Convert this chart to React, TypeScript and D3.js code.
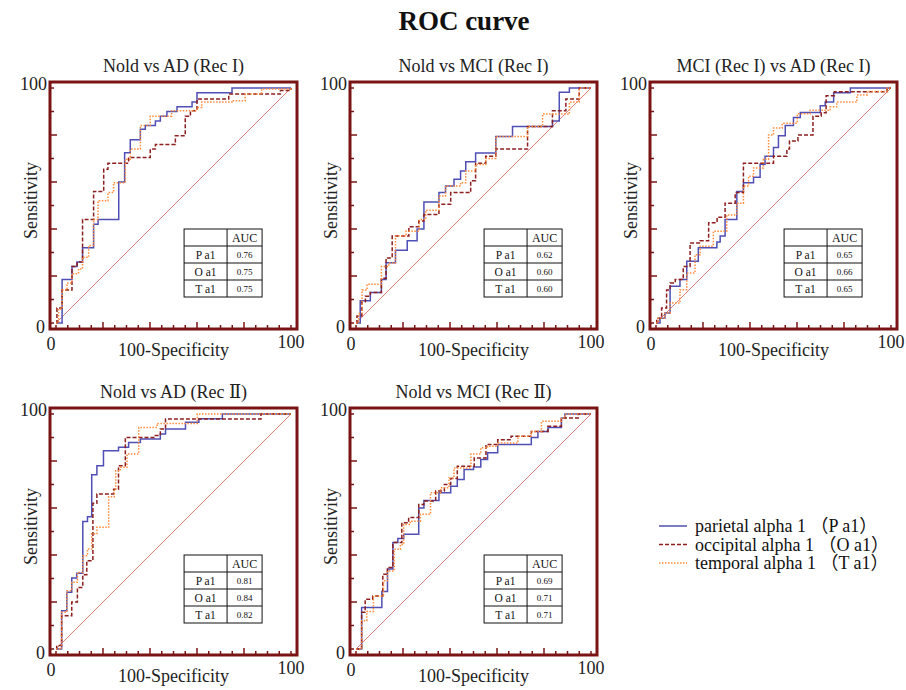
import * as d3 from "d3";

// ROC points: [100-specificity, sensitivity], stepped (horizontal, then up)
const p1Parietal = [[0,0],[2.6,18.5],[6.8,24],[8.9,26],[11.3,32],[16,42],[17.9,44],[26.7,60],[29.2,72.5],[31.6,78],[35.9,82.5],[38,84],[42.3,86],[44.4,88],[47.2,90],[51.5,92],[57.9,94],[60,98],[74.9,100],[100,100]];
const p1Occipital = [[0,0],[0.4,6.4],[2.6,14],[6.8,24],[9,26],[11.3,44],[16,56],[20.3,65.4],[22.1,68],[30.9,70.4],[40.1,74],[42.3,76],[50.8,79.7],[55,88],[57.2,90.3],[60,95.3],[73.5,97.4],[95.5,98.9],[100,100]];
const p1Temporal = [[0,0],[1.1,6],[2.6,14],[4.7,17],[6.8,21],[9.6,23],[11.3,28],[13.9,33],[16,44],[17.9,52],[22.1,55.5],[24.5,59.7],[29.5,69.7],[31.6,74],[35.9,84],[40.1,88],[49.2,90.3],[60,91.7],[62,94],[74.9,94.6],[80.5,97.4],[87.5,99.6],[100,100]];

const p2Parietal = [[0,0],[1.8,9.5],[6.1,13],[10.8,18.5],[12.8,25.6],[16.8,31],[21.8,35],[26,40],[28.9,51.5],[35.3,55.5],[38.1,58.3],[41.7,61.2],[44.5,64.7],[46.7,68.6],[50.9,72.3],[59.5,79.4],[66.6,83.6],[83.6,86],[86.5,98.2],[90.8,100],[100,100]];
const p2Occipital = [[0,0],[0.4,3],[2.5,9],[4,11.4],[6.1,13],[10.8,19],[12.8,27.7],[15.4,37],[22.5,41],[26.7,43.4],[28.9,46.2],[35.3,50.5],[40.3,55.5],[48.8,60.5],[50.9,68],[55.2,71],[59.5,74],[73,83.6],[83.6,90.3],[89.3,95.3],[95,100],[100,100]];
const p2Temporal = [[0,0],[1.1,4],[2.6,14],[4.7,16.5],[10.8,24],[13.9,25.5],[16.8,37],[21.3,39],[26.9,44],[29.7,48],[35.3,54],[38.1,58.3],[44.5,59.7],[46.7,64.7],[50.9,67.5],[55.2,70],[59.5,79.4],[73,83.6],[79.4,88.9],[90.8,94],[95,100],[100,100]];

const p3Parietal = [[0,0],[1.7,2],[3.8,4.3],[6,15.6],[10.2,18.5],[13.1,26.3],[18,32],[25.9,34.5],[27.3,37],[29.4,44],[34.4,56],[37.2,59.7],[41.5,62],[44.3,67.6],[46.4,71],[50,74.7],[52.1,79.7],[55,84],[58.5,87.5],[61.4,89.6],[69.9,92.5],[72,94],[75.6,98],[82.7,100],[100,100]];
const p3Occipital = [[0,0],[0.3,2],[2.4,6.4],[4.5,14],[6,17],[8.2,18.5],[11.6,24],[14.5,34],[18.8,35],[22.4,42.7],[26,45],[29.4,51],[33.7,55.5],[37.2,68],[50,71],[55.7,74],[56.8,77.5],[60.4,80],[66.8,88],[70.3,89.5],[72.4,96.7],[75.9,98.4],[98.3,100],[100,100]];
const p3Temporal = [[0,0],[1,2],[3.8,4.3],[6,8.5],[10.2,14.2],[13.1,21.3],[16.6,29],[18.8,32.7],[24.4,39],[30.1,46],[34.4,51],[37.2,58.3],[39.4,62.5],[41.5,66],[45.7,69.7],[47.9,80],[50,83],[53.7,85],[60.1,89],[65.6,90.5],[74.1,92],[76.9,94],[85.5,97],[89.9,98.5],[98.3,100],[100,100]];

const p4Parietal = [[0,0],[2.4,16.3],[4.6,24.1],[6.7,30.2],[8.8,32.2],[11.4,54.3],[13.4,56.3],[15.2,74.2],[17.4,78],[20.2,84.4],[26.6,85.8],[30.9,87.9],[35.9,89.4],[44.4,91.5],[46.6,93.6],[55.1,96.5],[60.8,98],[70.8,100],[100,100]];
const p4Occipital = [[0,0],[0.3,1.5],[2.4,14.2],[6.7,20],[9.1,26.2],[11.4,31.6],[13.1,37.6],[15.7,62],[17.4,66],[24.5,68],[26.6,78],[29.5,90],[41.6,90.8],[44.4,93.6],[46.6,97.9],[87.2,100],[100,100]];
const p4Temporal = [[0,0],[2.4,15.6],[4.6,24.8],[6.7,28.4],[9.1,32.6],[11.4,39.7],[13.4,42.6],[15.2,49],[17.4,51.8],[22.4,64.8],[24.8,68],[25.4,75.9],[27.4,77.3],[30.2,83],[35.2,94.3],[43,96],[60.1,100],[100,100]];

const p5Parietal = [[0,0],[2.4,17.7],[11,24.5],[13.4,34],[15.7,45.3],[17.8,47],[20.3,48.8],[26.7,60],[28.9,63.2],[35.3,66.5],[40.3,69.3],[43.1,72.1],[46,76.4],[50,77.5],[53.1,80.6],[56,83.5],[60.3,87],[74.6,90],[77.4,92.6],[81.7,94.3],[87.4,98.3],[88.9,100],[100,100]];
const p5Occipital = [[0,0],[2.4,15.6],[3.9,21.2],[7.1,22.6],[11.4,31.8],[13.4,34.7],[15.7,45.3],[19.5,53.7],[22.4,56],[26.7,61.5],[28.9,63],[33.9,67.2],[37.6,70],[40.3,72.6],[43.1,77.8],[50.3,81.3],[55.3,87],[60.3,89],[66,90.5],[74.6,92.6],[81.7,94.8],[87.4,98.3],[94.6,100],[100,100]];
const p5Temporal = [[0,0],[2.4,12],[4.6,16],[7.4,22.6],[11.7,29],[13.4,33.2],[16.3,42.4],[18.9,44.5],[20.3,53],[23.1,54.4],[27.4,57.3],[31.7,66.5],[36,68.6],[39.6,72.8],[41.7,77],[48.9,83],[53.1,85.6],[56,86.3],[60.3,87.7],[68.9,90.5],[74.6,92.6],[78.9,96.9],[87.4,98.3],[88.9,100],[100,100]];

const panelTitles = ["Nold vs AD (Rec I)", "Nold vs MCI (Rec I)", "MCI (Rec I) vs AD (Rec I)", "Nold vs AD (Rec \u2161)", "Nold vs MCI (Rec \u2161)"];
const aucParietal = ["0.76", "0.62", "0.65", "0.81", "0.69"];
const aucOccipital = ["0.75", "0.60", "0.66", "0.84", "0.71"];
const aucTemporal = ["0.75", "0.60", "0.65", "0.82", "0.71"];
const seriesShort = ["P a1", "O a1", "T a1"];
const seriesNames = ["parietal alpha 1 \uFF08P a1\uFF09", "occipital alpha 1 \uFF08O a1\uFF09", "temporal alpha 1 \uFF08T a1\uFF09"];

const curves = [
  [p1Parietal, p1Occipital, p1Temporal],
  [p2Parietal, p2Occipital, p2Temporal],
  [p3Parietal, p3Occipital, p3Temporal],
  [p4Parietal, p4Occipital, p4Temporal],
  [p5Parietal, p5Occipital, p5Temporal],
];

const FONT = "'Liberation Serif', 'DejaVu Serif', 'Noto Sans CJK JP', serif";
const FRAME_COLOR = "#7a1414";
const styles = [
  { stroke: "#4f4fb5", dash: undefined },
  { stroke: "#8e1f1f", dash: "4,2" },
  { stroke: "#ff8a3a", dash: "1.5,1.5" },
];

const SIZE = 247;
const INSET = 6;
const colX = [50, 350, 650];
const rowY = [82, 408];

function Panel({ idx }: { idx: number }) {
  const left = colX[idx % 3];
  const top = rowY[Math.floor(idx / 3)];
  const x = d3.scaleLinear().domain([0, 100]).range([left + INSET, left + SIZE - INSET]);
  const y = d3.scaleLinear().domain([0, 100]).range([top + SIZE - INSET, top + INSET]);
  const line = d3
    .line<number[]>()
    .x((d) => x(d[0]))
    .y((d) => y(d[1]))
    .curve(d3.curveStepAfter);

  const tx = x(54.5);
  const ty = y(40);
  const rowH = 17;
  const colA = 43;
  const tw = 78;
  const aucs = [aucParietal[idx], aucOccipital[idx], aucTemporal[idx]];

  return (
    <g>
      <text x={left + SIZE / 2} y={top - 10} textAnchor="middle" fontSize={18} fontFamily={FONT} fill="#222">
        {panelTitles[idx]}
      </text>
      <rect x={left} y={top} width={SIZE} height={SIZE} fill="#fff" />
      <line x1={x(0)} y1={y(0)} x2={x(100)} y2={y(100)} stroke="#e08078" strokeWidth={1} />
      {curves[idx].map((pts, i) => (
        <path
          key={i}
          d={line(pts) || ""}
          fill="none"
          stroke={styles[i].stroke}
          strokeWidth={1.5}
          strokeDasharray={styles[i].dash}
        />
      ))}
      {/* ticks */}
      {d3.range(0, 101, 10).map((v) => (
        <line key={"y" + v} x1={left} x2={left + (v % 20 === 0 && v > 0 && v < 100 ? 7 : 4)} y1={y(v)} y2={y(v)} stroke={FRAME_COLOR} strokeWidth={1.5} />
      ))}
      {d3.range(0, 101, 5).map((v) => (
        <line key={"x" + v} y1={top + SIZE} y2={top + SIZE - (v % 20 === 0 && v > 0 && v < 100 ? 7 : 4)} x1={x(v)} x2={x(v)} stroke={FRAME_COLOR} strokeWidth={1.5} />
      ))}
      <rect x={left} y={top} width={SIZE} height={SIZE} fill="none" stroke={FRAME_COLOR} strokeWidth={3} />
      {/* axis labels */}
      <text x={left - 3} y={y(100) + 2} textAnchor="end" fontSize={18} fontFamily={FONT} fill="#222">100</text>
      <text x={left - 5} y={y(0) + 10} textAnchor="end" fontSize={18} fontFamily={FONT} fill="#222">0</text>
      <text x={left + 1} y={top + SIZE + 21} textAnchor="middle" fontSize={18} fontFamily={FONT} fill="#222">0</text>
      <text x={x(100)} y={top + SIZE + 19} textAnchor="middle" fontSize={18} fontFamily={FONT} fill="#222">100</text>
      <text x={left + SIZE / 2} y={top + SIZE + 27} textAnchor="middle" fontSize={18} fontFamily={FONT} fill="#222">100-Specificity</text>
      <text transform={`translate(${left - 13},${top + SIZE / 2 - 5}) rotate(-90)`} textAnchor="middle" fontSize={18} fontFamily={FONT} fill="#222">
        Sensitivity
      </text>
      {/* AUC table */}
      <g fontFamily={FONT} fill="#111">
        <rect x={tx} y={ty} width={tw} height={rowH * 4} fill="#fff" stroke="#111" strokeWidth={1} />
        {[1, 2, 3].map((r) => (
          <line key={r} x1={tx} x2={tx + tw} y1={ty + r * rowH} y2={ty + r * rowH} stroke="#111" strokeWidth={1} />
        ))}
        <line x1={tx + colA} x2={tx + colA} y1={ty} y2={ty + rowH * 4} stroke="#111" strokeWidth={1} />
        <text x={tx + colA + (tw - colA) / 2} y={ty + 13} textAnchor="middle" fontSize={12}>AUC</text>
        {seriesShort.map((s, i) => (
          <g key={s}>
            <text x={tx + colA / 2} y={ty + (i + 1) * rowH + 12.5} textAnchor="middle" fontSize={11.5}>{s}</text>
            <text x={tx + colA + (tw - colA) / 2} y={ty + (i + 1) * rowH + 12} textAnchor="middle" fontSize={9}>{aucs[i]}</text>
          </g>
        ))}
      </g>
    </g>
  );
}

export default function App() {
  return (
    <svg width={906} height={690} style={{ position: "absolute", left: 0, top: 0, background: "#fff" }}>
      <rect width={906} height={690} fill="#fff" />
      <text x={464} y={30} textAnchor="middle" fontSize={27} fontWeight="bold" fontFamily={FONT} fill="#111">
        ROC curve
      </text>
      {panelTitles.map((_, i) => (
        <Panel key={i} idx={i} />
      ))}
      <g fontFamily={FONT}>
        {seriesNames.map((name, i) => (
          <g key={name} transform={`translate(659,${526 + i * 18.5})`}>
            <line x1={0} x2={28} y1={0} y2={0} stroke={styles[i].stroke} strokeWidth={1.5} strokeDasharray={styles[i].dash} />
            <text x={36} y={6} fontSize={18} fill="#111">{name}</text>
          </g>
        ))}
      </g>
    </svg>
  );
}
